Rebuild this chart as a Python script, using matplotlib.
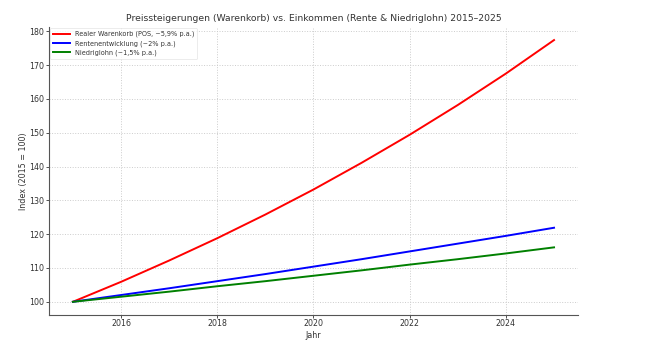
import matplotlib
matplotlib.use("Agg")
import matplotlib.pyplot as plt

years = [2015, 2016, 2017, 2018, 2019, 2020, 2021, 2022, 2023, 2024, 2025]
warenkorb = [100.0, 105.9, 112.2, 118.8, 125.8, 133.2, 141.1, 149.4, 158.2, 167.5, 177.4]
rente = [100.0, 102.0, 104.0, 106.1, 108.2, 110.4, 112.6, 114.9, 117.2, 119.5, 121.9]
niedriglohn = [100.0, 101.5, 103.0, 104.6, 106.1, 107.7, 109.3, 111.0, 112.6, 114.3, 116.1]

labels = ["Realer Warenkorb (POS, ~5,9% p.a.)",
          "Rentenentwicklung (~2% p.a.)",
          "Niedriglohn (~1,5% p.a.)"]

fig = plt.figure(figsize=(6.51, 3.55), dpi=100)
ax = fig.add_axes([0.075, 0.113, 0.813, 0.811])
ax.plot(years, warenkorb, color="red", lw=1.4, label=labels[0])
ax.plot(years, rente, color="blue", lw=1.4, label=labels[1])
ax.plot(years, niedriglohn, color="green", lw=1.4, label=labels[2])

ax.set_xticks([2016, 2018, 2020, 2022, 2024])
ax.set_yticks([100, 110, 120, 130, 140, 150, 160, 170, 180])
ax.tick_params(labelsize=5.7, colors="#333333", length=2, width=0.6, pad=1.2)
ax.grid(True, linestyle=":", color="#cccccc", linewidth=0.7)
for s in ["top", "right"]:
    ax.spines[s].set_visible(False)
for s in ["left", "bottom"]:
    ax.spines[s].set_color("#555555")
    ax.spines[s].set_linewidth(0.8)

ax.set_title("Preissteigerungen (Warenkorb) vs. Einkommen (Rente & Niedriglohn) 2015\u20132025",
             fontsize=6.65, color="#333333", pad=4)
ax.set_xlabel("Jahr", fontsize=5.8, color="#333333")
ax.set_ylabel("Index (2015 = 100)", fontsize=5.8, color="#333333")
ax.xaxis.set_label_coords(0.5, -0.056)
ax.yaxis.set_label_coords(-0.039, 0.5)
leg = ax.legend(loc="upper left", fontsize=4.7, frameon=True, handlelength=2.6,
                borderaxespad=0.2, labelspacing=0.45, handletextpad=0.8)
leg.get_frame().set_edgecolor("#dddddd")
leg.get_frame().set_linewidth(0.5)
for t in leg.get_texts():
    t.set_color("#333333")

fig.savefig("out.png", dpi=100)
